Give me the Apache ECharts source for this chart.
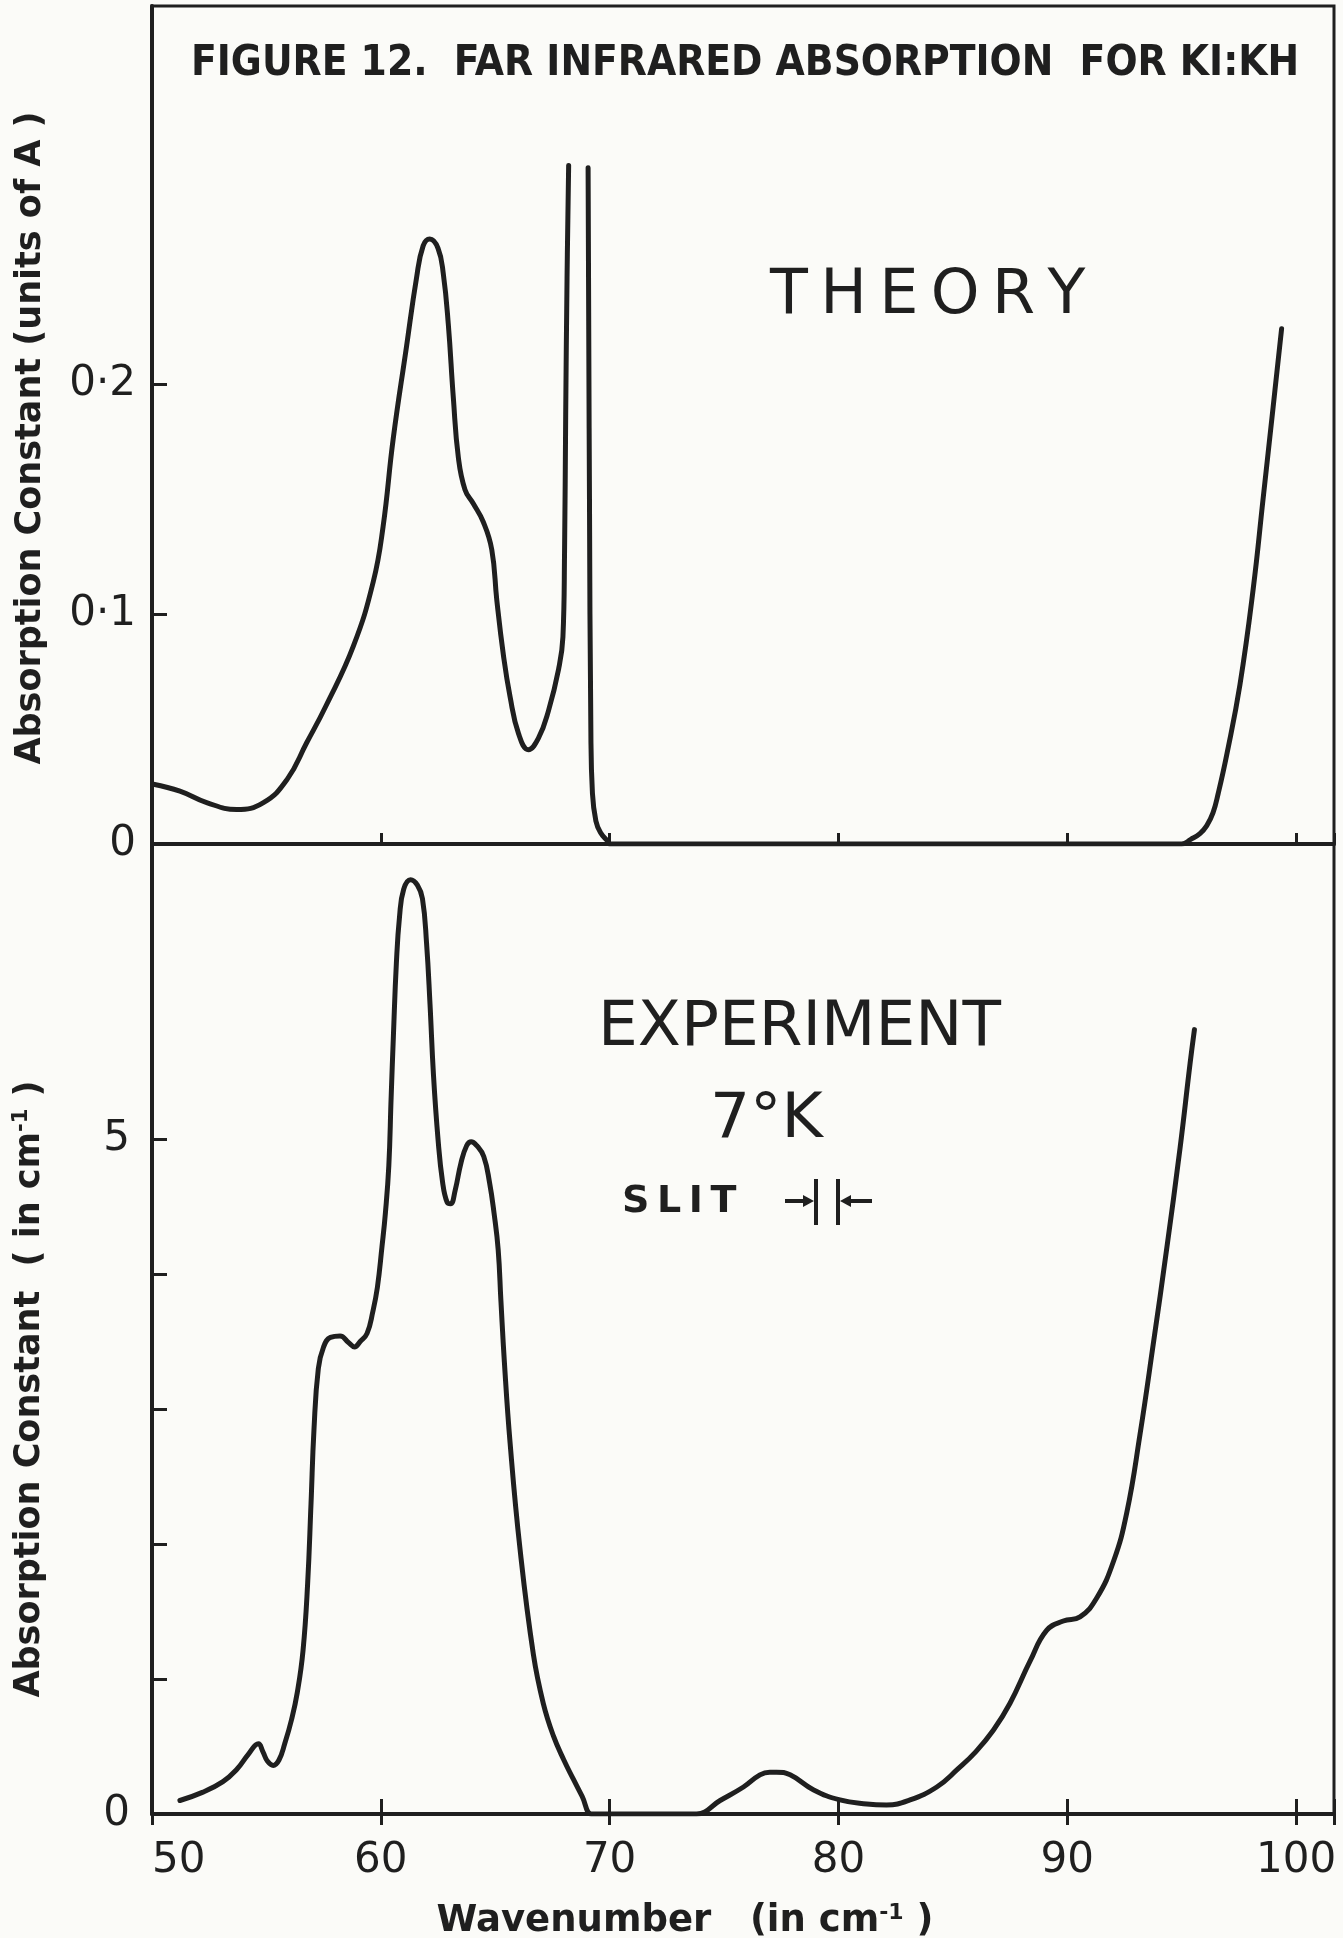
<!DOCTYPE html>
<html>
<head>
<meta charset="utf-8">
<script src="https://cdn.jsdelivr.net/npm/echarts@6/dist/echarts.min.js"></script>
<style>
html,body{margin:0;padding:0;background:#fbfbf8;}
#chart{width:1343px;height:1938px;}
</style>
</head>
<body>
<div id="chart"></div>
<script>
// ---- Data ----
const titleText = 'FIGURE 12.  FAR INFRARED ABSORPTION  FOR KI:KH';
const xTickValues = [50, 60, 70, 80, 90, 100];

// Theory: absorption constant (units of A) vs wavenumber (cm^-1); null = gap in the trace
const theoryX = [50.06, 51.22, 52.39, 53.7, 54.87, 55.9, 56.76, 57.6, 58.8, 59.67, 60.1, 60.54, 61.12, 61.56, 61.85, 62.14, 62.5, 62.73, 62.95, 63.17, 63.39, 63.68, 64.04, 64.48, 64.85, 65.07, 65.36, 65.65, 66.02, 66.45, 66.89, 67.33, 67.77, 67.96, 68.03, 68.08, 68.14, 68.21,
  68.6,
  69.06, 69.12, 69.18, 69.25, 69.4, 69.6, 69.93, 70.0, 95.0, 95.4, 95.8, 96.1, 96.37, 96.6, 96.97, 97.55, 98.13, 98.56, 99.0, 99.37];
const theoryY = [0.026, 0.023, 0.018, 0.015, 0.018, 0.028, 0.044, 0.060, 0.086, 0.114, 0.138, 0.176, 0.216, 0.246, 0.260, 0.263, 0.259, 0.248, 0.226, 0.194, 0.168, 0.154, 0.148, 0.140, 0.128, 0.106, 0.082, 0.064, 0.048, 0.041, 0.046, 0.058, 0.076, 0.090, 0.126, 0.186, 0.246, 0.295,
  null,
  0.294, 0.15, 0.05, 0.022, 0.010, 0.005, 0.001, 0.0, 0.0, 0.002, 0.0045, 0.008, 0.0135, 0.022, 0.0387, 0.0693, 0.111, 0.150, 0.190, 0.224];

// Experiment at 7 K: absorption constant (cm^-1) vs wavenumber (cm^-1)
const expX = [51.22, 52.2, 53.1, 53.7, 54.2, 54.65, 54.85, 55.05, 55.3, 55.55, 55.8, 56.1, 56.35, 56.6, 56.8, 56.95, 57.08, 57.27, 57.5, 57.8, 58.22, 58.6, 58.85, 59.1, 59.4, 59.65, 59.85, 60.05, 60.2, 60.35, 60.45, 60.55, 60.68, 60.82, 61.0, 61.3, 61.6, 61.82, 62.0, 62.15, 62.3, 62.5, 62.7, 62.9, 63.05, 63.25, 63.5, 63.75, 63.95, 64.2, 64.5, 64.75, 64.95, 65.13, 65.25, 65.4, 65.65, 66.08, 66.67, 67.1, 67.54, 68.0, 68.41, 68.8, 69.2, 69.5, 73.5, 73.8, 74.83, 75.85, 76.57, 77.0, 77.3, 77.89, 78.9, 80.07, 81.24, 82.1, 83.13, 84.3, 85.2, 86.0, 86.77, 87.5, 88.37, 89.1, 89.83, 90.56, 91.29, 92.02, 92.6, 93.18, 93.76, 94.35, 94.93, 95.37, 95.56];
const expY = [0.10, 0.16, 0.24, 0.33, 0.44, 0.52, 0.46, 0.39, 0.36, 0.40, 0.52, 0.70, 0.90, 1.21, 1.70, 2.30, 2.85, 3.30, 3.46, 3.53, 3.54, 3.49, 3.46, 3.50, 3.56, 3.72, 3.90, 4.20, 4.45, 4.80, 5.30, 5.76, 6.30, 6.65, 6.85, 6.92, 6.88, 6.78, 6.45, 6.00, 5.48, 5.00, 4.68, 4.53, 4.52, 4.62, 4.82, 4.95, 4.98, 4.95, 4.87, 4.68, 4.45, 4.18, 3.80, 3.35, 2.75, 1.97, 1.18, 0.82, 0.58, 0.40, 0.26, 0.13, 0.0, 0.0, 0.0, 0.0, 0.10, 0.20, 0.29, 0.31, 0.31, 0.29, 0.18, 0.104, 0.074, 0.067, 0.104, 0.20, 0.33, 0.46, 0.62, 0.82, 1.13, 1.36, 1.43, 1.46, 1.60, 1.87, 2.23, 2.81, 3.48, 4.19, 4.93, 5.56, 5.81];

const theoryTickValues = [0.1, 0.2];
const theoryLabelValues = [0, 0.1, 0.2];
const expTickValues = [1, 2, 3, 4, 5];
const expLabelValues = [0, 5];

// ---- Styles ----
const INK = '#1f1f1f';
const numFont = "'DejaVu Sans', 'Noto Sans', sans-serif";
const boldFont = "'DejaVu Sans', 'Noto Sans', sans-serif";

const theoryData = theoryX.map((x, i) => [x, theoryY[i] === null ? '-' : theoryY[i]]);
const expData = expX.map((x, i) => [x, expY[i]]);

const chart = echarts.init(document.getElementById('chart'), null, {renderer: 'canvas'});

const xCommon = {
  type: 'value', min: 50, max: 101.66, interval: 10,
  splitLine: {show: false},
  axisLine: {show: true, onZero: false, lineStyle: {color: INK, width: 4}},
};

const option = {
  backgroundColor: '#fbfbf8',
  animation: false,
  title: {
    text: titleText,
    left: 186, top: 38,
    textStyle: {
      fontFamily: "'DejaVu Sans Condensed', 'Liberation Sans Narrow', 'DejaVu Sans', sans-serif",
      fontWeight: 'bold', fontSize: 42, color: INK
    }
  },
  grid: [
    {left: 152, right: 9, top: 6, height: 838, show: true, borderColor: INK, borderWidth: 3, backgroundColor: 'transparent', containLabel: false, outerBoundsMode: 'none'},
    {left: 152, right: 9, top: 844, height: 970, show: true, borderColor: INK, borderWidth: 3, backgroundColor: 'transparent', containLabel: false, outerBoundsMode: 'none'}
  ],
  xAxis: [
    Object.assign({}, xCommon, {
      gridIndex: 0, position: 'bottom',
      axisTick: {show: true, inside: true, length: 11, lineStyle: {color: INK, width: 3}},
      axisLabel: {show: false}
    }),
    Object.assign({}, xCommon, {
      gridIndex: 1, position: 'bottom',
      axisTick: {show: true, inside: true, length: 15, lineStyle: {color: INK, width: 3}},
      axisLabel: {
        show: true, margin: 26, color: INK, fontSize: 42, fontFamily: numFont,
        alignMinLabel: 'left',
        customValues: xTickValues
      },
      name: 'Wavenumber   (in cm{sup|-1} )',
      nameLocation: 'middle', nameGap: 88,
      nameTextStyle: {
        color: INK, fontFamily: boldFont, fontWeight: 'bold', fontSize: 37,
        padding: [0, 116, 0, 0],
        rich: {sup: {fontSize: 22, fontWeight: 'bold', fontFamily: boldFont, color: INK, verticalAlign: 'top', padding: [0, 0, 16, 0]}}
      }
    }),
    Object.assign({}, xCommon, {
      gridIndex: 1, position: 'top',
      axisLine: {show: false},
      axisTick: {show: true, inside: true, length: 11, lineStyle: {color: INK, width: 3}},
      axisLabel: {show: false}
    })
  ],
  yAxis: [
    {
      gridIndex: 0, type: 'value', min: 0, max: 0.3643, interval: 0.1,
      splitLine: {show: false},
      axisLine: {show: true, lineStyle: {color: INK, width: 4}},
      axisTick: {show: true, inside: true, length: 15, customValues: theoryTickValues, lineStyle: {color: INK, width: 3}},
      axisLabel: {
        show: true, margin: 16, color: INK, fontSize: 42, fontFamily: numFont,
        customValues: theoryLabelValues,
        formatter: v => v === 0 ? '0' : v.toFixed(1).replace('.', '·')
      },
      name: 'Absorption Constant (units of A )',
      nameLocation: 'middle', nameGap: 104,
      nameTextStyle: {color: INK, fontFamily: boldFont, fontWeight: 'bold', fontSize: 35, padding: [0, 26, 0, 0]}
    },
    {
      gridIndex: 1, type: 'value', min: 0, max: 7.185, interval: 1,
      splitLine: {show: false},
      axisLine: {show: true, lineStyle: {color: INK, width: 4}},
      axisTick: {show: true, inside: true, length: 15, customValues: expTickValues, lineStyle: {color: INK, width: 3}},
      axisLabel: {
        show: true, margin: 22, color: INK, fontSize: 42, fontFamily: numFont,
        customValues: expLabelValues
      },
      name: 'Absorption Constant  ( in cm{sup|-1} )',
      nameLocation: 'middle', nameGap: 104,
      nameTextStyle: {
        color: INK, fontFamily: boldFont, fontWeight: 'bold', fontSize: 35, padding: [0, 120, 0, 0],
        rich: {sup: {fontSize: 21, fontWeight: 'bold', fontFamily: boldFont, color: INK, verticalAlign: 'top', padding: [0, 0, 16, 0]}}
      }
    }
  ],
  series: [
    {
      name: 'Theory', type: 'line', xAxisIndex: 0, yAxisIndex: 0,
      data: theoryData, showSymbol: false, connectNulls: false,
      smooth: 0.45,
      lineStyle: {color: INK, width: 5, cap: 'round', join: 'round'}
    },
    {
      name: 'Experiment 7°K', type: 'line', xAxisIndex: 1, yAxisIndex: 1,
      data: expData, showSymbol: false,
      smooth: 0.45,
      lineStyle: {color: INK, width: 5, cap: 'round', join: 'round'}
    }
  ],
  graphic: [
    {type: 'text', left: 770, top: 266, style: {text: 'T\u2009H\u2009E\u2009O\u2009R\u2009Y', fill: INK, fontFamily: numFont, fontSize: 62}},
    {type: 'text', left: 598, top: 997, style: {text: 'EXPERIMENT', fill: INK, fontFamily: numFont, fontSize: 63}},
    {type: 'text', left: 710, top: 1089, style: {text: '7°K', fill: INK, fontFamily: numFont, fontSize: 63}},
    {type: 'text', left: 622, top: 1183, style: {text: 'S\u2009L\u2009I\u2009T', fill: INK, fontFamily: boldFont, fontWeight: 'bold', fontSize: 38}},
    {type: 'group', children: [
      {type: 'line', shape: {x1: 785, y1: 1201, x2: 810, y2: 1201}, style: {stroke: INK, lineWidth: 4}},
      {type: 'polygon', shape: {points: [[803, 1195], [814, 1201], [803, 1207]]}, style: {fill: INK}},
      {type: 'line', shape: {x1: 816, y1: 1179, x2: 816, y2: 1225}, style: {stroke: INK, lineWidth: 4}},
      {type: 'line', shape: {x1: 838, y1: 1179, x2: 838, y2: 1225}, style: {stroke: INK, lineWidth: 4}},
      {type: 'polygon', shape: {points: [[851, 1195], [840, 1201], [851, 1207]]}, style: {fill: INK}},
      {type: 'line', shape: {x1: 844, y1: 1201, x2: 872, y2: 1201}, style: {stroke: INK, lineWidth: 4}}
    ]}
  ]
};
chart.setOption(option);
</script>
</body>
</html>
